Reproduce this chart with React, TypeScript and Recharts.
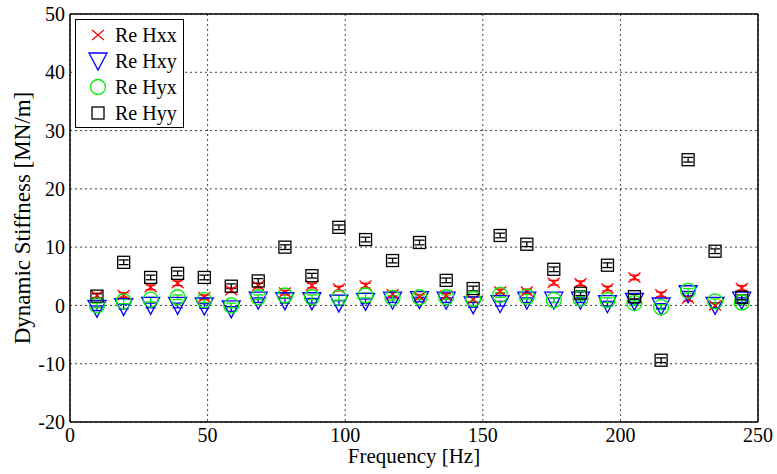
import React from "react";
import {
  ScatterChart,
  Scatter,
  XAxis,
  YAxis,
  CartesianGrid,
  ErrorBar,
  Legend,
} from "recharts";

// frequency bins (Hz)
const freqs = [
  9.8, 19.5, 29.3, 39.1, 48.8, 58.6, 68.4, 78.1, 87.9, 97.7, 107.4, 117.2,
  127.0, 136.7, 146.5, 156.3, 166.0, 175.8, 185.5, 195.3, 205.1, 214.8, 224.6,
  234.4, 244.1,
];

// real part of the stiffness coefficients (MN/m)
const reHxx = [
  1.7, 1.8, 3.1, 3.8, 1.4, 2.6, 3.4, 2.2, 3.4, 2.9, 3.4, 1.9, 1.5, 1.7, 1.0,
  2.4, 2.4, 3.9, 3.8, 2.9, 4.8, 1.9, 1.2, 0.0, 3.0,
];
const reHxy = [
  -0.5, -0.2, 0.0, 0.0, -0.1, -0.6, 0.9, 0.8, 0.8, 0.4, 0.7, 0.9, 1.0, 0.9,
  0.1, 0.3, 0.9, 0.9, 0.9, 0.3, 0.7, -0.1, 2.0, 0.0, 0.9,
];
const reHyx = [
  0.0, 0.7, 1.0, 1.4, 0.9, 0.0, 1.4, 1.7, 1.4, 1.3, 1.7, 1.3, 1.4, 1.4, 1.1,
  1.8, 1.5, 0.9, 1.2, 0.9, 0.4, -0.3, 2.5, 0.7, 0.5,
];
const reHyy = [
  1.6, 7.4, 4.8, 5.5, 4.8, 3.3, 4.2, 10.0, 5.1, 13.4, 11.3, 7.7, 10.8, 4.3,
  2.9, 12.0, 10.5, 6.2, 2.1, 6.9, 1.5, -9.4, 25.0, 9.3, 1.4,
];

// uncertainty band around each estimate
const spread = 0.4;

const xTicks = [0, 50, 100, 150, 200, 250];
const yTicks = [-20, -10, 0, 10, 20, 30, 40, 50];

const toPoints = (vals: number[]) =>
  freqs.map((f, i) => ({ f, v: vals[i], e: spread }));

const FONT = "Liberation Serif, DejaVu Serif, Times New Roman, serif";
const LW = 1.3;
const GREEN = "#00f000";

const crossPath = (x: number, y: number) =>
  `M${x - 6},${y - 5}L${x + 6},${y + 5}M${x - 6},${y + 5}L${x + 6},${y - 5}`;
const triPath = (x: number, y: number) =>
  `M${x - 9},${y - 8}L${x + 9},${y - 8}L${x},${y + 9}Z`;

const CrossMark = ({ cx, cy }: any) => (
  <path d={crossPath(cx, cy)} stroke="#ff0000" strokeWidth={LW} fill="none" />
);
const TriMark = ({ cx, cy }: any) => (
  <path d={triPath(cx, cy)} stroke="#0000ff" strokeWidth={LW} fill="none" />
);
const CircleMark = ({ cx, cy }: any) => (
  <circle cx={cx} cy={cy} r={7.5} stroke={GREEN} strokeWidth={LW} fill="none" />
);
const SquareMark = ({ cx, cy }: any) => (
  <rect
    x={cx - 6}
    y={cy - 6}
    width={12}
    height={12}
    stroke="#000"
    strokeWidth={LW}
    fill="none"
  />
);

const legendRows = [
  { name: "Re Hxx", mark: CrossMark },
  { name: "Re Hxy", mark: TriMark },
  { name: "Re Hyx", mark: CircleMark },
  { name: "Re Hyy", mark: SquareMark },
];

const LegendBox = () => (
  <svg width={109} height={109} style={{ display: "block" }}>
    <rect x={0.5} y={0.5} width={108} height={108} fill="#fff" stroke="#000" />
    {legendRows.map((r, i) => {
      const y = 16 + i * 26;
      const M = r.mark;
      return (
        <g key={r.name}>
          <M cx={23} cy={y} />
          <text
            x={40}
            y={y + 7}
            fontSize={20}
            style={{ fontFamily: FONT }}
            fill="#000"
          >
            {r.name}
          </text>
        </g>
      );
    })}
  </svg>
);

const NoLabel = () => <g />;

const axisStroke = { stroke: "#000", strokeWidth: 1.5 };
const tickStyle = { fill: "#000", fontSize: 20, style: { fontFamily: FONT } };

export default function App() {
  return (
    <div
      style={{
        position: "absolute",
        left: 0,
        top: 0,
        background: "#fff",
        fontFamily: FONT,
      }}
    >
      <ScatterChart
        width={777}
        height={474}
        margin={{ top: 14, right: 19, bottom: 0, left: 0 }}
      >
        <CartesianGrid stroke="#444" strokeDasharray="2 3" strokeWidth={1} />
        <XAxis
          dataKey="f"
          type="number"
          domain={[0, 250]}
          ticks={xTicks}
          height={52}
          tickLine={false}
          tickSize={0}
          tickMargin={6}
          axisLine={axisStroke}
          tick={tickStyle}
          allowDataOverflow
          label={{
            value: "Frequency [Hz]",
            position: "insideBottom",
            offset: 11,
            fill: "#000",
            fontSize: 21,
            style: { fontFamily: FONT },
          }}
        />
        <YAxis
          dataKey="v"
          type="number"
          domain={[-20, 50]}
          ticks={yTicks}
          width={70}
          tickLine={false}
          tickSize={0}
          tickMargin={5}
          axisLine={axisStroke}
          tick={tickStyle}
          allowDataOverflow
          label={{
            value: "Dynamic Stiffness [MN/m]",
            angle: -90,
            position: "insideLeft",
            offset: 22,
            fill: "#000",
            fontSize: 23,
            style: { textAnchor: "middle", fontFamily: FONT },
          }}
        />
        {/* inward tick marks on all four sides of the box */}
        <XAxis
          xAxisId="in"
          type="number"
          domain={[0, 250]}
          ticks={xTicks}
          mirror
          tickSize={6}
          axisLine={false}
          tickLine={{ stroke: "#000" }}
          tick={<NoLabel />}
        />
        <XAxis
          xAxisId="top"
          orientation="top"
          type="number"
          domain={[0, 250]}
          ticks={xTicks}
          mirror
          tickSize={6}
          axisLine={axisStroke}
          tickLine={{ stroke: "#000" }}
          tick={<NoLabel />}
        />
        <YAxis
          yAxisId="in"
          type="number"
          domain={[-20, 50]}
          ticks={yTicks}
          mirror
          tickSize={6}
          axisLine={false}
          tickLine={{ stroke: "#000" }}
          tick={<NoLabel />}
        />
        <YAxis
          yAxisId="right"
          orientation="right"
          type="number"
          domain={[-20, 50]}
          ticks={yTicks}
          mirror
          tickSize={6}
          axisLine={axisStroke}
          tickLine={{ stroke: "#000" }}
          tick={<NoLabel />}
        />
        <Legend
          layout="vertical"
          align="center"
          verticalAlign="middle"
          content={<LegendBox />}
          wrapperStyle={{ left: 75, top: 19, width: 109, height: 109 }}
        />
        <Scatter
          name="Re Hxx"
          data={toPoints(reHxx)}
          shape={CrossMark}
          fill="#ff0000"
          isAnimationActive={false}
        >
          <ErrorBar dataKey="e" direction="y" width={5} stroke="#ff0000" strokeWidth={LW} />
        </Scatter>
        <Scatter
          name="Re Hxy"
          data={toPoints(reHxy)}
          shape={TriMark}
          fill="#0000ff"
          isAnimationActive={false}
        >
          <ErrorBar dataKey="e" direction="y" width={5} stroke="#0000ff" strokeWidth={LW} />
        </Scatter>
        <Scatter
          name="Re Hyx"
          data={toPoints(reHyx)}
          shape={CircleMark}
          fill={GREEN}
          isAnimationActive={false}
        >
          <ErrorBar dataKey="e" direction="y" width={5} stroke={GREEN} strokeWidth={LW} />
        </Scatter>
        <Scatter
          name="Re Hyy"
          data={toPoints(reHyy)}
          shape={SquareMark}
          fill="#000"
          isAnimationActive={false}
        >
          <ErrorBar dataKey="e" direction="y" width={5} stroke="#000" strokeWidth={LW} />
        </Scatter>
      </ScatterChart>
    </div>
  );
}
